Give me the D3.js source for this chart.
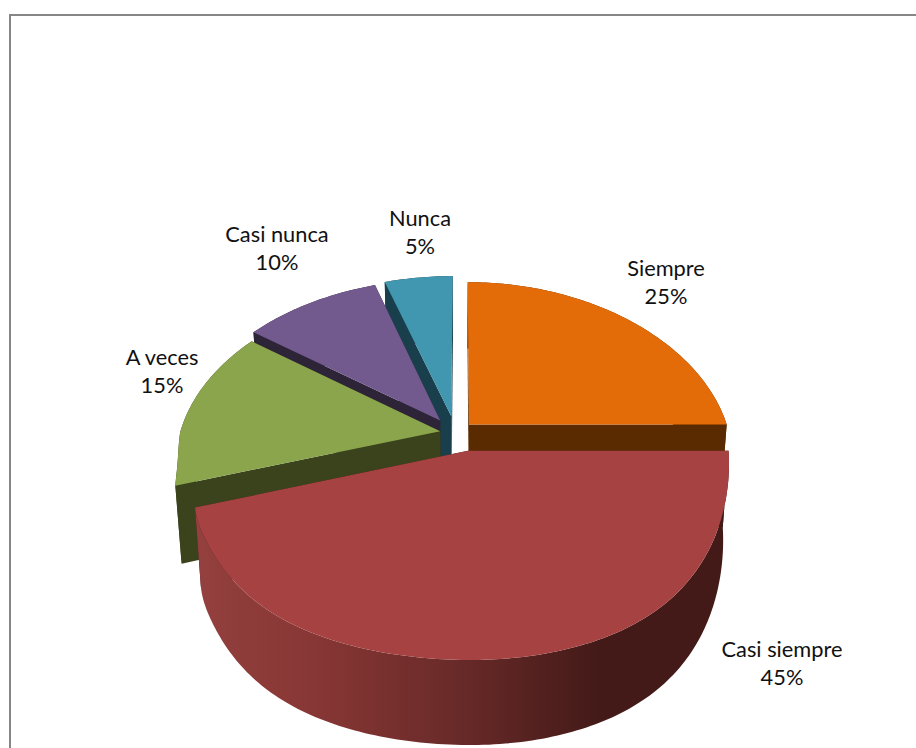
<!DOCTYPE html>
<html>
<head>
<meta charset="utf-8">
<script src="https://cdn.jsdelivr.net/npm/d3@7"></script>
<style>
html, body { margin: 0; padding: 0; background: #fff; overflow: hidden; }
text { font-family: Lato, "Open Sans", sans-serif; font-size: 21.8px; fill: #111; }
</style>
</head>
<body>
<div id="chart"></div>
<script>
var categories = ["Siempre", "Casi siempre", "A veces", "Casi nunca", "Nunca"];
var percents = [25, 45, 15, 10, 5];

var width = 916, height = 748;

// colours per slice
var topColors = ["#E36C09", "#A64342", "#8AA54C", "#725A8E", "#4196B0"];
var wallColors = ["#5A2B00", "#451A18", "#3A431C", "#2D2438", "#1A3F4C"];

// how far each slice was pulled out of the pie, in radius units
var shiftX = [0.031, 0.027, -0.08, -0.081, -0.038];
var shiftY = [-0.045, 0.11, -0.005, -0.07, -0.095];

// label centre, first line baseline
var labelX = [666, 782, 162, 277, 420];
var labelY = [276, 657, 365, 242, 226];

// camera, fitted by eye to the old 3D chart
var cx = 461, cy = 432, scaleX = 260, wallH = 75.4;
var tilt = 40.7 * Math.PI / 180, camD = 4.62, camF = 1190;
var sinT = Math.sin(tilt), cosT = Math.cos(tilt);

// front left quarter of the rim, smoothed so it has no kinks
var frontLeftCurve = d3.interpolateBasis([1, 0.98, 0.9, 0.87, 0.82, 0.75, 0.68]);
function frontLeft(y) { return frontLeftCurve(Math.min(y / 1.2, 1)); }

// horizontal stretch, the chart's perspective is not even on both sides
function stretch(x, y) {
  if (y <= 0) return 1 / (1 - (x > 0 ? 0.2 : 0.175) * y);
  if (x > 0) return 1 / (1 - 0.19 * y * y);
  return 1 / frontLeft(y);
}

// z is 0 on the top face, 1 at the foot of the wall
function project(x, y, z) {
  var sx = cx + scaleX * x * stretch(x, y) / (1 + 0.0224 * z);
  var sy = cy + camF * y * sinT / (camD - y * cosT) + wallH * z * (1 + 0.116 * y);
  return [sx, sy];
}

var svg = d3.select("#chart").append("svg")
  .attr("width", width)
  .attr("height", height)
  .style("display", "block");

var defs = svg.append("defs");
var grad = defs.append("linearGradient")
  .attr("id", "redWall")
  .attr("gradientUnits", "userSpaceOnUse")
  .attr("x1", 200).attr("x2", 600).attr("y1", 0).attr("y2", 0);
grad.append("stop").attr("offset", "0%").attr("stop-color", "#93403E");
grad.append("stop").attr("offset", "30%").attr("stop-color", "#863634");
grad.append("stop").attr("offset", "65%").attr("stop-color", "#682A28");
grad.append("stop").attr("offset", "100%").attr("stop-color", "#431A18");

// frame, only its top and left side are inside the picture
svg.append("path")
  .attr("d", "M10," + height + "V15H" + width)
  .attr("fill", "none")
  .attr("stroke", "#868686")
  .attr("stroke-width", 2);

var pie = d3.pie().sort(null).startAngle(0).endAngle(2 * Math.PI);
var arcs = pie(percents);

var line = d3.line().curve(d3.curveLinear);

function rimPoints(i, a0, a1, z) {
  var n = Math.max(2, Math.ceil((a1 - a0) * 60));
  return d3.range(n + 1).map(function(k) {
    var a = a0 + (a1 - a0) * k / n;
    return project(shiftX[i] + Math.sin(a), shiftY[i] - Math.cos(a), z);
  });
}

function sideWall(i, a) {
  var ax = shiftX[i], ay = shiftY[i];
  var rx = ax + Math.sin(a), ry = ay - Math.cos(a);
  return [project(ax, ay, 0), project(rx, ry, 0), project(rx, ry, 1), project(ax, ay, 1)];
}

// painter's order: back slices first, the big front slice last
var drawOrder = [0, 4, 3, 2, 1];

drawOrder.forEach(function(i) {
  var d = arcs[i];
  var g = svg.append("g");
  var wall = wallColors[i];

  g.append("path").attr("d", line(sideWall(i, d.startAngle)) + "Z").attr("fill", wall);
  g.append("path").attr("d", line(sideWall(i, d.endAngle)) + "Z").attr("fill", wall);

  var outer = rimPoints(i, d.startAngle, d.endAngle, 0)
    .concat(rimPoints(i, d.startAngle, d.endAngle, 1).reverse());
  g.append("path")
    .attr("d", line(outer) + "Z")
    .attr("fill", i === 1 ? "url(#redWall)" : wall);

  var face = [project(shiftX[i], shiftY[i], 0)].concat(rimPoints(i, d.startAngle, d.endAngle, 0));
  g.append("path").attr("d", line(face) + "Z").attr("fill", topColors[i]);
});

// labels
categories.forEach(function(name, i) {
  var t = svg.append("text").attr("text-anchor", "middle");
  t.append("tspan").attr("x", labelX[i]).attr("y", labelY[i]).text(name);
  t.append("tspan").attr("x", labelX[i]).attr("y", labelY[i] + 28).text(percents[i] + "%");
});
</script>
</body>
</html>
